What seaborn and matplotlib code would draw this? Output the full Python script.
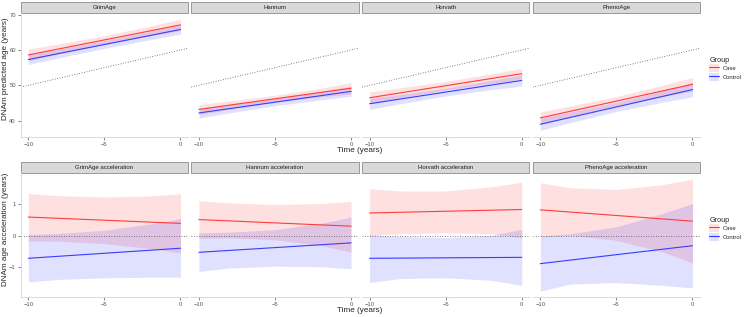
import matplotlib
matplotlib.use("Agg")
import matplotlib.pyplot as plt
from matplotlib.patches import Rectangle, Patch
from matplotlib.lines import Line2D
import pandas as pd
import seaborn as sns

clocks = ["GrimAge", "Hannum", "Horvath", "PhenoAge"]
groups = ["Case", "Control"]
time_line = [-10, 0]
time_band = [-10, -8, -5, -2, 0]

# predicted DNAm age, fitted line (start, end)
age_case = {"GrimAge": [58.6, 67.1], "Hannum": [43.2, 49.2],
            "Horvath": [46.5, 53.3], "PhenoAge": [40.8, 50.3]}
age_ctrl = {"GrimAge": [57.3, 65.8], "Hannum": [42.2, 48.3],
            "Horvath": [44.8, 51.4], "PhenoAge": [39.0, 48.8]}
# confidence bands at time_band
age_case_lo = {"GrimAge": [56.9, 58.9, 61.65, 64.0, 65.5], "Hannum": [41.8, 43.2, 45.2, 46.8, 47.6],
               "Horvath": [44.8, 46.5, 48.7, 50.5, 51.8], "PhenoAge": [39.1, 41.2, 44.25, 46.8, 48.4]}
age_case_hi = {"GrimAge": [60.3, 61.7, 64.05, 66.8, 68.7], "Hannum": [44.6, 45.6, 47.2, 49.2, 50.8],
               "Horvath": [48.2, 49.3, 51.1, 53.3, 54.8], "PhenoAge": [42.5, 44.2, 46.85, 50.0, 52.2]}
age_ctrl_lo = {"GrimAge": [55.9, 57.8, 60.45, 62.9, 64.5], "Hannum": [40.8, 42.2, 44.25, 45.9, 46.9],
               "Horvath": [43.2, 44.8, 47.0, 48.8, 49.8], "PhenoAge": [37.3, 39.5, 42.6, 45.2, 46.8]}
age_ctrl_hi = {"GrimAge": [58.7, 60.2, 62.65, 65.3, 67.1], "Hannum": [43.6, 44.6, 46.25, 48.3, 49.7],
               "Horvath": [46.4, 47.4, 49.2, 51.4, 53.0], "PhenoAge": [40.7, 42.5, 45.2, 48.4, 50.8]}

# age acceleration
acc_case = {"GrimAge": [0.60, 0.40], "Hannum": [0.52, 0.31],
            "Horvath": [0.73, 0.84], "PhenoAge": [0.83, 0.47]}
acc_ctrl = {"GrimAge": [-0.71, -0.39], "Hannum": [-0.52, -0.22],
            "Horvath": [-0.71, -0.68], "PhenoAge": [-0.88, -0.31]}
acc_case_lo = {"GrimAge": [-0.16, -0.17, -0.24, -0.40, -0.54], "Hannum": [-0.08, -0.06, -0.12, -0.30, -0.51],
               "Horvath": [0.02, 0.07, 0.10, 0.07, -0.06], "PhenoAge": [-0.03, 0.02, -0.14, -0.50, -0.86]}
acc_case_hi = {"GrimAge": [1.35, 1.28, 1.24, 1.27, 1.34], "Hannum": [1.12, 1.05, 1.00, 1.03, 1.10],
               "Horvath": [1.50, 1.43, 1.43, 1.56, 1.71], "PhenoAge": [1.69, 1.53, 1.48, 1.63, 1.80]}
acc_ctrl_lo = {"GrimAge": [-1.46, -1.38, -1.33, -1.31, -1.31], "Hannum": [-1.13, -1.02, -0.96, -0.98, -1.04],
               "Horvath": [-1.48, -1.35, -1.33, -1.41, -1.57], "PhenoAge": [-1.75, -1.53, -1.48, -1.57, -1.65]}
acc_ctrl_hi = {"GrimAge": [0.05, 0.08, 0.18, 0.38, 0.55], "Hannum": [0.10, 0.12, 0.20, 0.40, 0.60],
               "Horvath": [0.04, -0.02, -0.05, 0.02, 0.21], "PhenoAge": [0.00, 0.07, 0.29, 0.71, 1.03]}

ref_age_at_0 = 60  # chronological age reference line (slope 1)

line_col = {"Case": "#FF3B3B", "Control": "#3B3BFF"}
fill_col = {"Case": "#FF0000", "Control": "#0000FF"}

sns.set_style("white")
plt.rcParams["font.family"] = ["Liberation Sans", "DejaVu Sans"]

W, H = 746, 317
fig = plt.figure(figsize=(W / 100, H / 100), dpi=100)
lefts = [20.7, 191.3, 362.0, 532.7]
pw = 167.4


def make_df(case, ctrl):
    rows = []
    for c in clocks:
        for g, d in zip(groups, [case, ctrl]):
            for t, v in zip(time_line, d[c]):
                rows.append((c, g, t, v))
    return pd.DataFrame(rows, columns=["clock", "group", "time", "value"])


def draw_row(df, bands, y_top, ph, ylim, yticks, strip_suffix, ref):
    axes = []
    for i, c in enumerate(clocks):
        ax = fig.add_axes([lefts[i] / W, 1 - (y_top + ph) / H, pw / W, ph / H])
        for g, (lo, hi) in zip(groups, bands):
            ax.fill_between(time_band, lo[c], hi[c], color=fill_col[g], alpha=0.12, lw=0)
        if ref == "age":
            ax.axline((0, ref_age_at_0), slope=1, color="#555555", ls=(0, (1, 2)), lw=0.6)
        else:
            ax.axhline(0, color="#555555", ls=(0, (1, 2)), lw=0.6)
        sns.lineplot(data=df[df.clock == c], x="time", y="value", hue="group",
                     palette=line_col, lw=0.8, legend=False, ax=ax)
        ax.set_xlim(-10.5, 0.5)
        ax.set_ylim(*ylim)
        ax.set_xticks([-10, -5, 0])
        ax.set_yticks(yticks)
        ax.set_xlabel("")
        ax.set_ylabel("")
        for s in ["top", "right"]:
            ax.spines[s].set_visible(False)
        ax.spines["bottom"].set_color("#DADADA")
        ax.spines["bottom"].set_linewidth(0.7)
        if i == 0:
            ax.spines["left"].set_color("#DADADA")
            ax.spines["left"].set_linewidth(0.7)
        else:
            ax.spines["left"].set_visible(False)
            ax.tick_params(axis="y", left=False, labelleft=False)
        ax.tick_params(axis="both", labelsize=4.2, colors="#555555", length=2,
                       width=0.5, pad=1.5, bottom=True, left=(i == 0))
        sh = 10.8 / ph
        ax.add_patch(Rectangle((0, 1), 1, sh, transform=ax.transAxes, clip_on=False,
                               fc="#D9D9D9", ec="#8C8C8C", lw=0.6))
        ax.text(0.5, 1 + sh / 2, c + strip_suffix, transform=ax.transAxes,
                ha="center", va="center", fontsize=4.3, color="#1A1A1A")
        axes.append(ax)
    return axes


age_df = make_df(age_case, age_ctrl)
acc_df = make_df(acc_case, acc_ctrl)

draw_row(age_df, [(age_case_lo, age_case_hi), (age_ctrl_lo, age_ctrl_hi)],
         12.5, 124.5, (35.4, 70.6), [40, 50, 60, 70], "", "age")
draw_row(acc_df, [(acc_case_lo, acc_case_hi), (acc_ctrl_lo, acc_ctrl_hi)],
         173.0, 123.7, (-1.93, 2.0), [-1, 0, 1], " acceleration", "acc")

fig.text(6 / W, 1 - 69 / H, "DNAm predicted age (years)", rotation=90,
         ha="center", va="center", fontsize=5.9)
fig.text(6 / W, 1 - 229 / H, "DNAm age acceleration (years)", rotation=90,
         ha="center", va="center", fontsize=5.9)
fig.text(360 / W, 1 - 151 / H, "Time (years)", ha="center", va="center", fontsize=5.9)
fig.text(360 / W, 1 - 310.5 / H, "Time (years)", ha="center", va="center", fontsize=5.9)

handles = [(Patch(fc=fill_col[g], alpha=0.12, lw=0), Line2D([], [], color=line_col[g], lw=0.8))
           for g in groups]
for ytop in [55.5, 215.5]:
    leg = fig.legend(handles, groups, title="Group", loc="upper left",
                     bbox_to_anchor=(708 / W, 1 - ytop / H), frameon=False,
                     fontsize=4.2, title_fontsize=5.2, handlelength=1.7,
                     handleheight=1.7, labelspacing=0.1, handletextpad=0.6,
                     borderpad=0.2, borderaxespad=0)
    leg._legend_box.align = "left"

fig.savefig("out.png", dpi=100)
